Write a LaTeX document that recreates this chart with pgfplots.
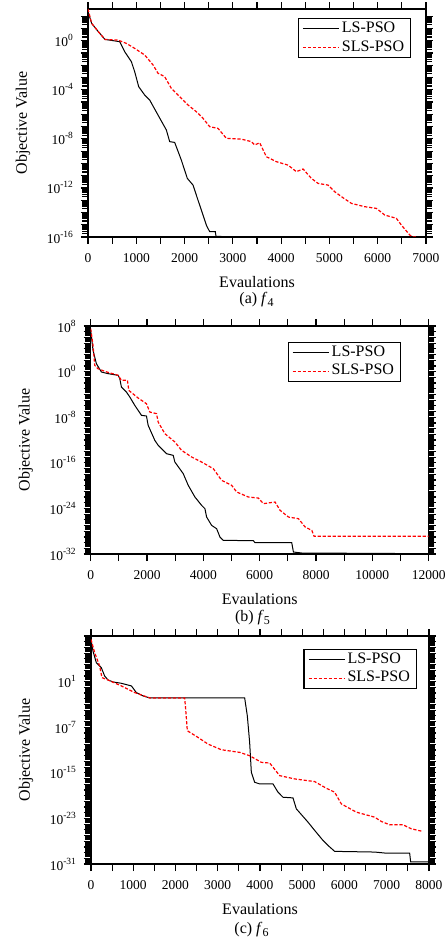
\documentclass[border=0pt]{standalone}
\usepackage{fontspec}
\setmainfont{Liberation Serif}
\usepackage{pgfplots}
\pgfplotsset{compat=1.18}
\newcommand{\tp}[1]{10\textsuperscript{#1}}

\pgfplotsset{
  legend image code/.code={\draw[#1] (0pt,0pt) -- (18pt,0pt);},
  scale only axis, width=169pt, height=114pt,
  axis line style={line width=0.75pt},
  tick style={color=black, line width=0.6pt},
  major tick length=3.5pt,
  tick align=outside,
  xtick pos=both, ytick pos=both,
  scaled x ticks=false,
  tick label style={font=\fontsize{6.75}{8}\selectfont},
  xticklabel style={yshift=-1pt},
  xlabel={Evaulations}, ylabel={Objective Value},
  every axis x label/.style={at={(axis description cs:0.5,-0.197)},anchor=center,font=\fontsize{8}{9}\selectfont},
  every axis y label/.style={at={(axis description cs:-0.192,0.5)},rotate=90,anchor=center,font=\fontsize{8}{9}\selectfont},
  legend style={draw=black, line width=0.6pt, font=\fontsize{8}{9}\selectfont,
    inner xsep=2pt, inner ysep=0.5pt, nodes={inner sep=1.2pt}, anchor=north east},
  legend cell align=left,
  lspso/.style={black, line width=0.5pt, solid, no marks},
  slspso/.style={red, line width=0.6pt, dash pattern=on 1.6pt off 0.9pt, no marks},
}

\begin{document}
\begin{tikzpicture}
\useasboundingbox (0,0) rectangle (223.5pt,-469pt);

% (a) f4
\begin{semilogyaxis}[at={(44pt,-4.5pt)}, anchor=north west,
  xmin=0, xmax=7000, xtick={0,500,...,7000},
  xticklabels={0,,1000,,2000,,3000,,4000,,5000,,6000,,7000},
  ymin=1e-16, ymax=380,
  ytick={1e-16,1e-15,1e-14,1e-13,1e-12,1e-11,1e-10,1e-9,1e-8,1e-7,1e-6,1e-5,1e-4,1e-3,1e-2,1e-1,1,10,100},
  yticklabels={\tp{-16},,,,\tp{-12},,,,\tp{-8},,,,\tp{-4},,,,\tp{0},,},
  legend style={at={(rel axis cs:0.956,0.96)}}]
\addplot[lspso] coordinates {
(0,230) (76,25.7) (214,5.4) (352,1.26) (656,0.83) (760,0.126) (898,0.0195)
(967,2.95e-3) (1050,1.78e-4) (1174,3.7e-5) (1243,2.0e-5) (1278,1.45e-5)
(1450,8.7e-7) (1623,5.25e-8) (1692,5.9e-9) (1795,5.1e-9) (1933,1.86e-10)
(2057,6.0e-12) (2175,1.7e-12) (2278,1.02e-13) (2382,6.2e-15) (2451,9.3e-16)
(2520,2.7e-16) (2637,2.7e-16) (2651,1.12e-16) (2760,1.12e-16)
};
\addlegendentry{LS-PSO}
\addplot[slspso] coordinates {
(0,380) (76,25.7) (214,5.4) (352,1.26) (621,1.12) (794,0.6) (967,0.234)
(1174,0.068) (1347,0.0105) (1450,2.2e-3) (1588,1.17e-3) (1726,1.29e-4)
(1899,2.7e-5) (2071,5.75e-6) (2244,1.62e-6) (2382,4.7e-7) (2520,9.8e-8)
(2693,7.1e-8) (2865,1.1e-8) (3176,9.5e-9) (3383,5.9e-9) (3452,3.16e-9)
(3556,4.8e-9) (3694,3.47e-10) (3901,1.38e-10) (4143,7.2e-11) (4316,2.1e-11)
(4454,3.5e-11) (4626,6.0e-12) (4764,2.34e-12) (4971,1.7e-12) (5109,4.9e-13)
(5282,1.58e-13) (5455,5.5e-14) (5731,2.95e-14) (5973,2.14e-14) (6145,6.2e-15)
(6387,3.3e-15) (6491,9.3e-16) (6664,1.45e-16) (6733,1e-16) (6800,1e-16)
};
\addlegendentry{SLS-PSO}
\end{semilogyaxis}
\node[font=\fontsize{8}{9}\selectfont] at (128.5pt,-150pt) {(a) \textit{f}\textsubscript{4}};

% (b) f5
\begin{semilogyaxis}[at={(45.35pt,-163pt)}, anchor=north west,
  xmin=0, xmax=12000, xtick={0,1000,...,12000},
  xticklabels={0,,2000,,4000,,6000,,8000,,10000,,12000},
  ymin=1e-32, ymax=1e8,
  ytick={1e-32,1e-31,1e-30,1e-29,1e-28,1e-27,1e-26,1e-25,1e-24,1e-23,1e-22,1e-21,1e-20,
    1e-19,1e-18,1e-17,1e-16,1e-15,1e-14,1e-13,1e-12,1e-11,1e-10,1e-9,1e-8,1e-7,1e-6,
    1e-5,1e-4,1e-3,1e-2,1e-1,1,10,100,1e3,1e4,1e5,1e6,1e7,1e8},
  yticklabels={\tp{-32},,,,,,,,\tp{-24},,,,,,,,\tp{-16},,,,,,,,\tp{-8},,,,,,,,\tp{0},,,,,,,,\tp{8}},
  legend style={at={(rel axis cs:0.918,0.93)}}]
\addplot[lspso] coordinates {
(0,1.74e7) (83,5.4e3) (202,24.5) (380,0.85) (617,0.44) (973,0.224) (1032,0.058)
(1091,2.0e-3) (1269,2.6e-4) (1388,3.5e-5) (1565,1.2e-6) (1803,2.14e-8) (1980,1.62e-8)
(2040,3.7e-10) (2277,8.7e-13) (2396,1.15e-13) (2692,4.0e-15) (2929,2.04e-15)
(2988,1.38e-16) (3285,1.26e-18) (3463,1.12e-20) (3700,1e-22) (3937,3.5e-24)
(4056,8.9e-25) (4115,3.1e-26) (4293,1.07e-27) (4471,2.75e-28) (4589,9.5e-30)
(4708,2.5e-30) (5775,2.2e-30) (5834,9.8e-31) (7138,9.8e-31) (7197,2.24e-32)
(7494,1.5e-32) (12000,1.15e-32)
};
\addlegendentry{LS-PSO}
\addplot[slspso] coordinates {
(0,3.4e7) (83,4.0e4) (142,12.6) (261,3.2) (498,1.12) (973,0.224) (1091,0.0295)
(1305,0.0295) (1352,5.1e-4) (1684,2.34e-5) (1980,2.34e-6) (2099,8.1e-8)
(2336,4.2e-8) (2395,1.45e-9) (2633,1.29e-11) (2989,4.5e-13) (3226,1.55e-14)
(3582,1.05e-15) (3938,1.38e-16) (4353,9.3e-18) (4649,8.3e-20) (5005,1.12e-20)
(5183,7.6e-22) (5598,1e-22) (5953,6.6e-23) (6131,6.8e-24) (6546,1.32e-23)
(6724,4.6e-25) (7020,3.1e-26) (7376,1.58e-26) (7613,5.5e-28) (7850,1.41e-28)
(7933,1.26e-29) (12000,1.26e-29)
};
\addlegendentry{SLS-PSO}
\end{semilogyaxis}
\node[font=\fontsize{8}{9}\selectfont] at (126.5pt,-309pt) {(b) \textit{f}\textsubscript{5}};

% (c) f6
\begin{semilogyaxis}[at={(45.5pt,-318pt)}, anchor=north west,
  xmin=0, xmax=8000, xtick={0,500,...,8000},
  xticklabels={0,,1000,,2000,,3000,,4000,,5000,,6000,,7000,,8000},
  ymin=1e-31, ymax=1e9,
  ytick={1e-31,1e-30,1e-29,1e-28,1e-27,1e-26,1e-25,1e-24,1e-23,1e-22,1e-21,1e-20,1e-19,
    1e-18,1e-17,1e-16,1e-15,1e-14,1e-13,1e-12,1e-11,1e-10,1e-9,1e-8,1e-7,1e-6,1e-5,
    1e-4,1e-3,1e-2,1e-1,1,10,100,1e3,1e4,1e5,1e6,1e7,1e8,1e9},
  yticklabels={\tp{-31},,,,,,,,\tp{-23},,,,,,,,\tp{-15},,,,,,,,\tp{-7},,,,,,,,\tp{1},,,,,,,,},
  legend style={at={(rel axis cs:0.964,0.943)}}]
\addplot[lspso] coordinates {
(0,2.5e8) (47,2.3e6) (126,2.1e4) (244,2.8e3) (323,98) (402,19.5) (521,8.7)
(718,5.1) (957,1.74) (1073,0.12) (1231,0.031) (1389,0.0138) (3637,0.0138)
(3700,1e-5) (3755,2.2e-10) (3795,1.26e-15) (3874,2.2e-17) (3992,1.12e-17)
(4308,1.12e-17) (4426,4.0e-19) (4545,5.2e-20) (4781,4.0e-20) (4860,4.8e-22)
(5136,2.24e-24) (5294,7.9e-26) (5491,1.38e-27) (5609,1.86e-28) (5767,1.66e-29)
(6714,1.26e-29) (6950,8.5e-30) (7542,8.5e-30) (7566,2.3e-31) (8000,2.3e-31)
};
\addlegendentry{LS-PSO}
\addplot[slspso] coordinates {
(0,2.5e8) (87,1.17e6) (205,5.5e3) (260,50) (402,19.5) (718,1.74) (1034,0.12)
(1389,0.0138) (2217,0.0138) (2241,1.45e-4) (2280,2.4e-8) (2533,1.62e-9)
(2769,1.1e-10) (3085,1.12e-11) (3519,3.9e-12) (3756,1e-12) (4032,6.9e-14)
(4229,5.2e-14) (4466,3.2e-16) (4821,8.5e-17) (5294,2.9e-17) (5570,1.95e-18)
(5767,4.0e-19) (5925,3.5e-21) (6280,1.26e-22) (6714,1.66e-23) (6872,2.95e-24)
(7069,7.6e-25) (7384,7.6e-25) (7582,1.51e-25) (7818,6.0e-26)
};
\addlegendentry{SLS-PSO}
\end{semilogyaxis}
\node[font=\fontsize{8}{9}\selectfont] at (126pt,-465pt) {(c) \textit{f}\textsubscript{6}};
\end{tikzpicture}
\end{document}
